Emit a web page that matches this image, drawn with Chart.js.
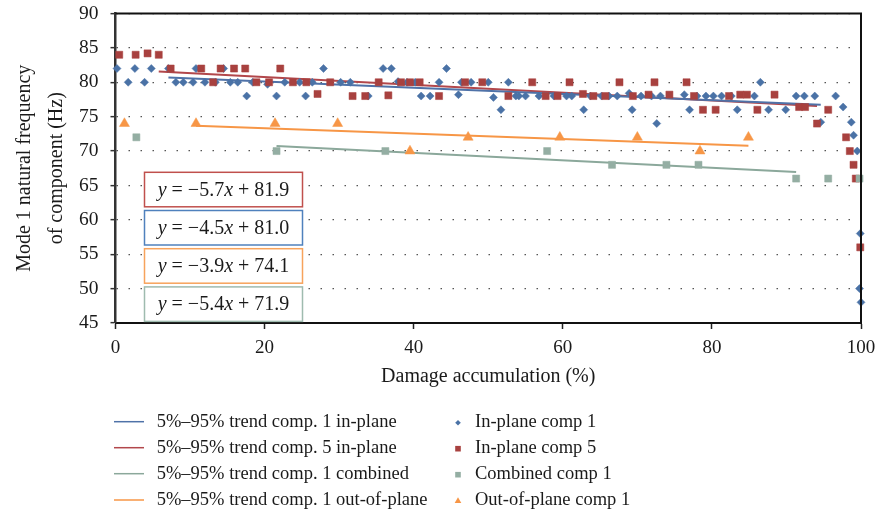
<!DOCTYPE html>
<html>
<head>
<meta charset="utf-8">
<script src="https://cdn.jsdelivr.net/npm/chart.js@4.4.0/dist/chart.umd.min.js"></script>
<style>
  html, body { margin: 0; padding: 0; background: #fff; }
  canvas { display: block; }
</style>
</head>
<body>
<canvas id="chart" width="877" height="513" style="width:877px;height:513px"></canvas>
<script>
// In-plane comp 1
const comp1InX = [0.2, 1.7, 2.6, 3.9, 4.8, 7.1, 8.1, 9.1, 10.4, 10.8, 12.0, 13.4, 14.5, 15.4, 16.4, 17.6, 18.4, 20.4, 21.6, 22.7,
  24.7, 25.5, 26.4, 27.9, 30.2, 31.5, 33.9, 35.9, 37.0, 37.9, 39.1, 40.2, 41.0, 42.2, 43.4, 44.4, 46.0, 46.4, 47.7, 50.0,
  50.7, 51.7, 52.7, 53.7, 54.1, 55.0, 56.8, 58.8, 60.5, 61.2, 62.8, 63.7, 65.2, 66.2, 67.3, 68.9, 69.3, 70.5, 71.9, 72.6,
  73.1, 76.3, 77.0, 78.0, 79.2, 80.2, 81.3, 82.6, 83.4, 85.7, 86.5, 87.6, 89.9, 91.3, 92.4, 93.8, 94.6, 96.6, 97.6, 98.7,
  99.0, 99.5, 99.9, 99.8, 100];
const comp1InY = [82, 80, 82, 80, 82, 82, 80, 80, 80, 82, 80, 80, 82, 80, 80, 78, 80, 79.7, 78, 80,
  80, 78, 80, 82, 80, 80, 78, 82, 82, 80.1, 80, 80, 78, 78, 80, 82, 78.2, 80, 80, 80,
  77.8, 76, 80, 78, 78, 78, 78, 78, 78, 78, 76, 78, 78, 78, 78, 78.4, 76, 78, 78, 74,
  78, 78.2, 76, 78, 78, 78, 78, 78, 76, 78, 80, 76, 76, 78, 78, 78, 74.2, 78, 76.4, 74.2,
  72.3, 70, 58, 50, 48];

// In-plane comp 5
const comp5InX = [0.5, 2.7, 4.3, 5.8, 7.4, 11.5, 13.1, 14.1, 15.9, 17.4, 18.9, 20.6, 22.1, 23.8, 25.6, 27.1, 28.8, 31.8, 33.5, 35.3,
  36.6, 38.3, 39.5, 40.8, 43.4, 46.9, 49.2, 52.7, 55.9, 57.7, 59.3, 60.9, 62.7, 64.1, 65.7, 67.6, 69.4, 71.5, 72.3, 74.3,
  76.6, 77.6, 78.8, 80.5, 82.3, 83.8, 84.7, 86.1, 88.4, 91.7, 92.5, 94.1, 95.6, 98.0, 98.5, 99.0, 99.3, 99.9];
const comp5InY = [84, 84, 84.2, 84, 82, 82, 80, 82, 82, 82, 80, 80, 82, 80, 80, 78.3, 80, 78, 78, 80,
  78.1, 80, 80, 80, 78, 80, 80, 78, 80, 78, 78, 80, 78.3, 78, 78, 80, 78, 78.2, 80, 78.2,
  80, 78, 76, 76, 78, 78.2, 78.2, 76, 78.2, 76.4, 76.4, 74, 76, 72, 70, 68, 66, 56];

// Combined comp 1
const comp1CombX = [2.8, 21.6, 36.2, 57.9, 66.6, 73.9, 78.2, 91.3, 95.6, 99.8];
const comp1CombY = [72, 70, 70, 70, 68, 68, 68, 66, 66, 66];

// Out-of-plane comp 1
const comp1OutX = [1.2, 10.8, 21.4, 29.8, 39.5, 47.3, 59.6, 70.0, 78.4, 84.9];
const comp1OutY = [74, 74, 74, 74, 70, 72, 72, 72, 70, 72];

// 5%-95% trends, y = slope * x + intercept with x as a fraction of damage
// order: comp1 in-plane, comp5 in-plane, comp1 combined, comp1 out-of-plane
const trendSlopes = [-4.5, -5.7, -5.4, -3.9];
const trendIntercepts = [81.0, 81.9, 71.9, 74.1];
const trendLabels = [
  '5%\u201395% trend comp. 1 in-plane',
  '5%\u201395% trend comp. 5 in-plane',
  '5%\u201395% trend comp. 1 combined',
  '5%\u201395% trend comp. 1 out-of-plane'
];
const seriesLabels = ['In-plane comp 1', 'In-plane comp 5', 'Combined comp 1', 'Out-of-plane comp 1'];

const xTickStep = 20;
const yTickStep = 5;

const FONT = '"Liberation Serif", "Times New Roman", serif';
const TEXT = '#1a1a1a';

const markerColors = ['#4a72a6', '#a8413f', '#94aea3', '#f79646'];
const lineColors = ['#4f72a8', '#b2474b', '#8ba89b', '#f79646'];
const boxColors = ['#4f81bd', '#c0504d', '#9fbbaf', '#f7a35c'];
const markerStyles = ['rectRot', 'rect', 'rect', 'triangle'];
const markerRadius = [4, 5, 5, 5.8];

const pointSets = [
  [comp1InX, comp1InY],
  [comp5InX, comp5InY],
  [comp1CombX, comp1CombY],
  [comp1OutX, comp1OutY]
];

function toPoints(xs, ys) {
  return xs.map((x, i) => ({ x, y: ys[i] }));
}

// trend drawn from first to last sample within 5%-95%
function trendPoints(k) {
  const xs = pointSets[k][0].filter(x => x >= 5 && x <= 95);
  const x0 = Math.min(...xs), x1 = Math.max(...xs);
  const f = x => trendSlopes[k] * x / 100 + trendIntercepts[k];
  return [{ x: x0, y: f(x0) }, { x: x1, y: f(x1) }];
}

const datasets = [];
const drawOrder = [3, 2, 0, 1];
pointSets.forEach((p, k) => {
  datasets.push({
    type: 'scatter',
    label: seriesLabels[k],
    data: toPoints(p[0], p[1]),
    pointStyle: markerStyles[k],
    pointRadius: markerRadius[k],
    pointBackgroundColor: markerColors[k],
    pointBorderColor: markerColors[k],
    pointBorderWidth: 0.5,
    showLine: false,
    clip: false,
    order: drawOrder[k]
  });
});
pointSets.forEach((p, k) => {
  datasets.push({
    type: 'line',
    label: trendLabels[k],
    data: trendPoints(k),
    borderColor: lineColors[k],
    borderWidth: 2,
    pointRadius: 0,
    fill: false,
    order: 5
  });
});

function fmt(v) {
  return v < 0 ? '\u2212' + Math.abs(v).toFixed(1) : v.toFixed(1);
}

function drawMarker(ctx, style, x, y, r, color) {
  ctx.save();
  ctx.fillStyle = color;
  ctx.beginPath();
  if (style === 'rectRot') {
    ctx.moveTo(x, y - r); ctx.lineTo(x + r, y); ctx.lineTo(x, y + r); ctx.lineTo(x - r, y);
  } else if (style === 'rect') {
    ctx.rect(x - r, y - r, 2 * r, 2 * r);
  } else {
    ctx.moveTo(x, y - r); ctx.lineTo(x + r * 0.87, y + r * 0.5); ctx.lineTo(x - r * 0.87, y + r * 0.5);
  }
  ctx.closePath();
  ctx.fill();
  ctx.restore();
}

const overlay = {
  id: 'overlay',
  afterDatasetsDraw(chart) {
    const ctx = chart.ctx;
    const a = chart.chartArea;
    // equation boxes, in the order red, blue, orange, green
    const boxOrder = [1, 0, 3, 2];
    ctx.save();
    boxOrder.forEach((k, i) => {
      const bx = a.left + 29, bw = 158, bh = 34.5;
      const by = a.top + 158.8 + i * 38.2;
      ctx.fillStyle = '#fff';
      ctx.fillRect(bx, by, bw, bh);
      ctx.strokeStyle = boxColors[k];
      ctx.lineWidth = 1.5;
      ctx.strokeRect(bx, by, bw, bh);
      const parts = [
        ['y', true], [' = ' + fmt(trendSlopes[k]), false], ['x', true], [' + ' + trendIntercepts[k].toFixed(1), false]
      ];
      let total = 0;
      parts.forEach(p => {
        ctx.font = (p[1] ? 'italic ' : '') + '20px ' + FONT;
        total += ctx.measureText(p[0]).width;
      });
      let tx = bx + (bw - total) / 2;
      ctx.fillStyle = TEXT;
      ctx.textBaseline = 'middle';
      parts.forEach(p => {
        ctx.font = (p[1] ? 'italic ' : '') + '20px ' + FONT;
        ctx.fillText(p[0], tx, by + bh / 2 + 1);
        tx += ctx.measureText(p[0]).width;
      });
    });
    ctx.restore();
  },
  afterDraw(chart) {
    const ctx = chart.ctx;
    const a = chart.chartArea;
    ctx.save();
    // plot frame top and right
    ctx.strokeStyle = '#111';
    ctx.lineWidth = 2;
    ctx.beginPath();
    ctx.moveTo(a.left, a.top);
    ctx.lineTo(a.right, a.top);
    ctx.lineTo(a.right, a.bottom);
    ctx.stroke();

    // legend, two columns
    const rowY = [421.7, 447.7, 473.7, 500];
    ctx.font = '18.5px ' + FONT;
    ctx.textBaseline = 'middle';
    trendLabels.forEach((label, k) => {
      const y = rowY[k];
      ctx.strokeStyle = lineColors[k];
      ctx.lineWidth = 1.5;
      ctx.beginPath();
      ctx.moveTo(114, y);
      ctx.lineTo(144, y);
      ctx.stroke();
      ctx.fillStyle = TEXT;
      ctx.fillText(label, 156.7, y);
    });
    const legendR = [2.8, 2.8, 2.8, 3.8];
    seriesLabels.forEach((label, k) => {
      const y = rowY[k];
      drawMarker(ctx, markerStyles[k], 458, y + 1, legendR[k], markerColors[k]);
      ctx.fillStyle = TEXT;
      ctx.fillText(label, 475, y);
    });
    ctx.restore();
  }
};

new Chart(document.getElementById('chart'), {
  type: 'scatter',
  data: { datasets },
  options: {
    responsive: false,
    animation: false,
    layout: { padding: { left: 0, right: 16, top: 13.5, bottom: 118 } },
    plugins: {
      legend: { display: false },
      tooltip: { enabled: false }
    },
    scales: {
      x: {
        type: 'linear',
        min: 0,
        max: 100,
        ticks: { stepSize: xTickStep, padding: 8, color: TEXT, font: { family: FONT, size: 19 } },
        grid: { drawOnChartArea: false, drawTicks: true, tickLength: 6, tickColor: '#222', tickWidth: 1.5 },
        border: { color: '#111', width: 2 },
        title: {
          display: true,
          text: 'Damage accumulation (%)',
          color: TEXT,
          font: { family: FONT, size: 20 },
          padding: { top: 0, bottom: 6 }
        },
        afterFit(s) {
          s.height = 72;
          s.paddingLeft = 0;
          s.paddingRight = 0;
        }
      },
      y: {
        min: 45,
        max: 90,
        ticks: { stepSize: yTickStep, padding: 12, color: TEXT, font: { family: FONT, size: 19.5 } },
        grid: { color: '#555', lineWidth: 1.3, tickLength: 5, tickColor: '#333', tickWidth: 1.5 },
        border: { color: '#333', width: 2.5, dash: [1.5, 10.5] },
        title: {
          display: true,
          text: ['Mode 1 natural frequency', 'of component (Hz)'],
          color: TEXT,
          font: { family: FONT, size: 20, lineHeight: 1.6 },
          padding: { top: 9, bottom: 0 }
        },
        afterFit(s) {
          s.width = 115.5;
          s.paddingTop = 0;
          s.paddingBottom = 0;
        }
      }
    }
  },
  plugins: [overlay]
});
</script>
</body>
</html>
